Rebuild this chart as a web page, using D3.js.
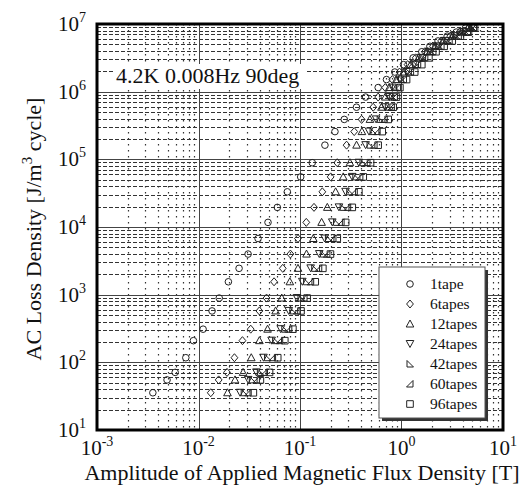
<!DOCTYPE html>
<html>
<head>
<meta charset="utf-8">
<script src="https://cdn.jsdelivr.net/npm/d3@7"></script>
<style>
  body { margin: 0; background: #fff; }
  svg { display: block; font-family: "Liberation Serif", "Times New Roman", serif; }
</style>
</head>
<body>
<script>
// AC loss density shared by every series (one value per measured level) [J/m^3 cycle]
const lossDensity = [35.5, 55, 71, 117, 209, 309, 575, 891, 1550, 2450, 3980, 6760,
  11700, 19500, 33100, 55000, 89100, 162000, 257000, 389000, 589000, 832000,
  1150000, 1510000, 1950000, 2510000, 3160000, 3890000, 4680000, 5620000, 6610000, 7590000, 8710000];

// amplitude of applied flux density [T] for each series
const tape1 = [0.00355, 0.0049, 0.00589, 0.0075, 0.00891, 0.0111, 0.0136, 0.016, 0.0197, 0.0251, 0.0308, 0.0386,
  0.0484, 0.0598, 0.075, 0.1016, 0.132, 0.176, 0.221, 0.273, 0.36, 0.443,
  0.589, 0.711, 0.859, 1.047, 1.303, 1.585, 1.905, 2.291, 2.818, 3.467, 4.266];
const tapes6 = [0.0132, 0.0158, 0.0191, 0.0226, 0.0271, 0.0327, 0.0398, 0.0468, 0.0555, 0.0676, 0.0804, 0.0955,
  0.1153, 0.1374, 0.166, 0.2004, 0.2328, 0.2877, 0.342, 0.4046, 0.526, 0.589,
  0.692, 0.813, 0.955, 1.148, 1.38, 1.698, 2.042, 2.455, 3.02, 3.715, 4.571];
const tapes12 = [0.0193, 0.0229, 0.0275, 0.0331, 0.0398, 0.0479, 0.0575, 0.0661, 0.0794, 0.0955, 0.1159, 0.1352,
  0.1633, 0.1858, 0.2244, 0.2667, 0.3105, 0.3606, 0.4074, 0.4887, 0.6353, 0.6918,
  0.7586, 0.8913, 1.047, 1.23, 1.479, 1.778, 2.138, 2.57, 3.162, 3.89, 4.786];
const tapes24 = [0.0257, 0.0309, 0.0372, 0.0437, 0.0525, 0.0646, 0.0776, 0.0933, 0.1054, 0.1274, 0.1549, 0.175,
  0.208, 0.242, 0.281, 0.327, 0.38, 0.443, 0.479, 0.562, 0.692, 0.759,
  0.813, 0.955, 1.122, 1.318, 1.549, 1.862, 2.239, 2.692, 3.311, 4.074, 4.898];
const tapes42 = [0.0282, 0.0339, 0.0407, 0.0479, 0.0575, 0.0708, 0.0851, 0.1023, 0.1161, 0.1396, 0.1698, 0.1905,
  0.2291, 0.2661, 0.309, 0.3548, 0.4169, 0.4898, 0.5248, 0.6166, 0.7413, 0.8128,
  0.871, 1.0, 1.175, 1.38, 1.622, 1.95, 2.344, 2.818, 3.467, 4.266, 5.012];
const tapes60 = [0.0309, 0.0372, 0.0447, 0.0537, 0.0631, 0.0776, 0.0933, 0.1096, 0.1274, 0.1531, 0.1841, 0.2113,
  0.2541, 0.2951, 0.3428, 0.389, 0.4571, 0.537, 0.5754, 0.6761, 0.7943, 0.8511,
  0.912, 1.047, 1.23, 1.445, 1.698, 2.042, 2.455, 2.951, 3.631, 4.467, 5.129];
const tapes96 = [0.0347, 0.0407, 0.0501, 0.0603, 0.0708, 0.0851, 0.1023, 0.1175, 0.1413, 0.1679, 0.1995, 0.2328,
  0.2818, 0.3273, 0.3802, 0.4198, 0.4955, 0.5888, 0.6457, 0.7396, 0.8279, 0.8913,
  0.9638, 1.122, 1.349, 1.585, 1.862, 2.188, 2.63, 3.162, 3.802, 4.571, 5.248];

const seriesNames = ["1tape", "6tapes", "12tapes", "24tapes", "42tapes", "60tapes", "96tapes"];
const seriesB = [tape1, tapes6, tapes12, tapes24, tapes42, tapes60, tapes96];
const seriesShapes = ["circle", "diamond", "up", "down", "corner42", "corner60", "square"];

const xTickExp = [-3, -2, -1, 0, 1];
const yTickExp = [1, 2, 3, 4, 5, 6, 7];

const W = 525, H = 486;
const pL = 97, pR = 503, pT = 24, pB = 430;

const svg = d3.select("body").append("svg").attr("width", W).attr("height", H);

const x = d3.scaleLog().domain([1e-3, 1e1]).range([pL, pR]);
const y = d3.scaleLog().domain([1e1, 1e7]).range([pB, pT]);

// grid: dashed minor rows, dotted minor columns, solid decades
const grid = svg.append("g");
const minorX = [], minorY = [];
for (let e = -3; e < 1; e++) for (let k = 2; k <= 9; k++) minorX.push(k * Math.pow(10, e));
for (let e = 1; e < 7; e++) for (let k = 2; k <= 9; k++) minorY.push(k * Math.pow(10, e));

grid.selectAll(".my").data(minorY).enter().append("line")
  .attr("x1", pL).attr("x2", pR)
  .attr("y1", d => Math.round(y(d)) + 0.5).attr("y2", d => Math.round(y(d)) + 0.5)
  .attr("stroke", "#333").attr("stroke-width", 1).attr("stroke-dasharray", "4,2");

grid.selectAll(".mx").data(minorX).enter().append("line")
  .attr("y1", pT).attr("y2", pB)
  .attr("x1", d => Math.round(x(d)) + 0.5).attr("x2", d => Math.round(x(d)) + 0.5)
  .attr("stroke", "#333").attr("stroke-width", 1.2).attr("stroke-dasharray", "1.5,4.5");

grid.selectAll(".My").data(yTickExp.map(e => Math.pow(10, e))).enter().append("line")
  .attr("x1", pL).attr("x2", pR)
  .attr("y1", d => Math.round(y(d)) + 0.5).attr("y2", d => Math.round(y(d)) + 0.5)
  .attr("stroke", "#444").attr("stroke-width", 1);

grid.selectAll(".Mx").data(xTickExp.map(e => Math.pow(10, e))).enter().append("line")
  .attr("y1", pT).attr("y2", pB)
  .attr("x1", d => Math.round(x(d)) + 0.5).attr("x2", d => Math.round(x(d)) + 0.5)
  .attr("stroke", "#444").attr("stroke-width", 1);

// annotation with white background
const note = svg.append("g");
note.append("rect").attr("x", 113).attr("y", 64).attr("width", 192).attr("height", 25).attr("fill", "#fff");
note.append("text").attr("x", 116).attr("y", 83).attr("font-size", 22).attr("fill", "#111")
  .text("4.2K 0.008Hz 90deg");

// symbols
function symbolPath(shape) {
  switch (shape) {
    case "circle": return "M3.3,0A3.3,3.3 0 1,1 -3.3,0A3.3,3.3 0 1,1 3.3,0Z";
    case "diamond": return "M0,-4L3.4,0L0,4L-3.4,0Z";
    case "up": return "M0,-4L3.8,3L-3.8,3Z";
    case "down": return "M0,3.5L3.8,-3.5L-3.8,-3.5Z";
    case "corner42": return "M-3,-3.5L-3,3L3.5,3Z";
    case "corner60": return "M3,-3.5L3,3L-3.5,3Z";
    case "square": return "M-3.3,-3.3H3.3V3.3H-3.3Z";
  }
}

const marks = svg.append("g");
seriesB.forEach((bs, i) => {
  marks.append("g").selectAll("path").data(bs.map((b, j) => [b, lossDensity[j]])).enter()
    .append("path")
    .attr("d", symbolPath(seriesShapes[i]))
    .attr("transform", d => `translate(${x(d[0])},${y(d[1])})`)
    .attr("fill", "none").attr("stroke", "#222").attr("stroke-width", 1);
});

// frame
svg.append("rect").attr("x", pL).attr("y", pT).attr("width", pR - pL).attr("height", pB - pT)
  .attr("fill", "none").attr("stroke", "#000").attr("stroke-width", 3);

// tick labels
xTickExp.forEach(e => {
  const t = svg.append("text").attr("x", x(Math.pow(10, e))).attr("y", 455)
    .attr("text-anchor", "middle").attr("font-size", 21).attr("fill", "#111");
  t.append("tspan").text("10");
  t.append("tspan").attr("dy", -9).attr("font-size", 14).text(e);
});
yTickExp.forEach(e => {
  const t = svg.append("text").attr("x", 86).attr("y", y(Math.pow(10, e)) + 7)
    .attr("text-anchor", "end").attr("font-size", 21).attr("fill", "#111");
  t.append("tspan").text("10");
  t.append("tspan").attr("dy", -9).attr("font-size", 14).text(e);
});

// axis titles
svg.append("text").attr("x", (pL + pR) / 2 + 2).attr("y", 480)
  .attr("text-anchor", "middle").attr("font-size", 22).attr("fill", "#111")
  .text("Amplitude of Applied Magnetic Flux Density [T]");

const yt = svg.append("text").attr("transform", `translate(41,${(pT + pB) / 2 + 2}) rotate(-90)`)
  .attr("text-anchor", "middle").attr("font-size", 22).attr("fill", "#111");
yt.append("tspan").text("AC Loss Density [J/m");
yt.append("tspan").attr("dy", -9).attr("font-size", 15).text("3");
yt.append("tspan").attr("dy", 9).text(" cycle]");

// legend
const lg = svg.append("g").attr("transform", "translate(379,267)");
lg.append("rect").attr("x", 3).attr("y", 3).attr("width", 106).attr("height", 151).attr("fill", "#333");
lg.append("rect").attr("x", 0).attr("y", 0).attr("width", 106).attr("height", 151)
  .attr("fill", "#fff").attr("stroke", "#555").attr("stroke-width", 1);
seriesNames.forEach((name, i) => {
  const ry = 17 + i * 20;
  lg.append("path").attr("d", symbolPath(seriesShapes[i]))
    .attr("transform", `translate(31,${ry})`)
    .attr("fill", "none").attr("stroke", "#222").attr("stroke-width", 1);
  lg.append("text").attr("x", 51).attr("y", ry + 5).attr("font-size", 15.5).attr("fill", "#111").text(name);
});
</script>
</body>
</html>
